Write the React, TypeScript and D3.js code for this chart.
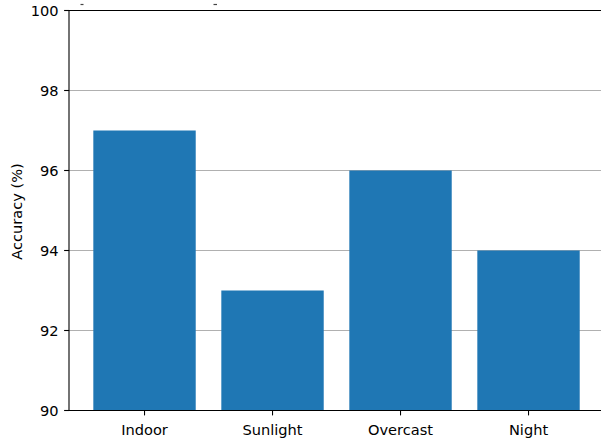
import React, { useEffect, useRef } from "react";
import * as d3 from "d3";

const categories = ["Indoor", "Sunlight", "Overcast", "Night"];
const accuracy = [97, 93, 96, 94];
const yTicks = [90, 92, 94, 96, 98, 100];
const yLabel = "Accuracy (%)";

const W = 601;
const H = 441;
const FONT = "'DejaVu Sans', sans-serif";
const FS = 14.6;

export default function App() {
  const ref = useRef<SVGSVGElement>(null);

  useEffect(() => {
    const svg = d3.select(ref.current);
    svg.selectAll("*").remove();

    const left = 69;
    const top = 10.5;
    const bottom = 410.5;
    const step = 128;
    const x = d3
      .scaleLinear()
      .domain([-0.59, 3.59])
      .range([left, left + 4.18 * step]);
    const right = x(3.59);
    const y = d3.scaleLinear().domain([90, 100]).range([bottom, top]);
    const barW = x(0.4) - x(-0.4);

    // grid lines
    svg
      .append("g")
      .selectAll("line")
      .data(yTicks)
      .join("line")
      .attr("x1", left)
      .attr("x2", right)
      .attr("y1", (d) => y(d))
      .attr("y2", (d) => y(d))
      .attr("stroke", "#b0b0b0")
      .attr("stroke-width", 1.1);

    // bars
    svg
      .append("g")
      .selectAll("rect")
      .data(accuracy)
      .join("rect")
      .attr("x", (_, i) => x(i) - barW / 2)
      .attr("width", barW)
      .attr("y", (d) => y(d))
      .attr("height", (d) => bottom - y(d))
      .attr("fill", "#1f77b4");

    // spines
    const spine = svg.append("g").attr("stroke", "#000").attr("stroke-width", 1.1);
    spine.append("line").attr("x1", left).attr("x2", left).attr("y1", top).attr("y2", bottom);
    spine.append("line").attr("x1", left).attr("x2", right).attr("y1", bottom).attr("y2", bottom);
    spine.append("line").attr("x1", left).attr("x2", right).attr("y1", top).attr("y2", top);
    spine.append("line").attr("x1", right).attr("x2", right).attr("y1", top).attr("y2", bottom);

    // y ticks
    const yg = svg.append("g");
    yTicks.forEach((t) => {
      yg.append("line")
        .attr("x1", left - 4.9)
        .attr("x2", left)
        .attr("y1", y(t))
        .attr("y2", y(t))
        .attr("stroke", "#000")
        .attr("stroke-width", 1.1);
      yg.append("text")
        .attr("x", left - 10.5)
        .attr("y", y(t))
        .attr("dy", "0.36em")
        .attr("text-anchor", "end")
        .attr("font-family", FONT)
        .attr("font-size", FS)
        .attr("fill", "#000")
        .text(t);
    });

    // x ticks
    const xg = svg.append("g");
    categories.forEach((c, i) => {
      xg.append("line")
        .attr("x1", x(i))
        .attr("x2", x(i))
        .attr("y1", bottom)
        .attr("y2", bottom + 4.9)
        .attr("stroke", "#000")
        .attr("stroke-width", 1.1);
      xg.append("text")
        .attr("x", x(i))
        .attr("y", bottom + 24)
        .attr("text-anchor", "middle")
        .attr("font-family", FONT)
        .attr("font-size", FS)
        .attr("fill", "#000")
        .text(c);
    });

    // y axis label
    svg
      .append("text")
      .attr("transform", `translate(${16.5},${(top + bottom) / 2 + 1}) rotate(-90)`)
      .attr("dy", "0.35em")
      .attr("text-anchor", "middle")
      .attr("font-family", FONT)
      .attr("font-size", FS)
      .attr("fill", "#000")
      .text(yLabel);

    // small marks above the axes
    const marks = svg.append("g").attr("stroke", "#444").attr("stroke-width", 1.2);
    marks.append("line").attr("x1", 80.5).attr("x2", 83.5).attr("y1", 4.5).attr("y2", 4.5);
    marks.append("line").attr("x1", 213.5).attr("x2", 217).attr("y1", 4.5).attr("y2", 4.5);
  }, []);

  return (
    <svg
      ref={ref}
      width={W}
      height={H}
      style={{ position: "absolute", left: 0, top: 0, background: "#fff" }}
    />
  );
}
